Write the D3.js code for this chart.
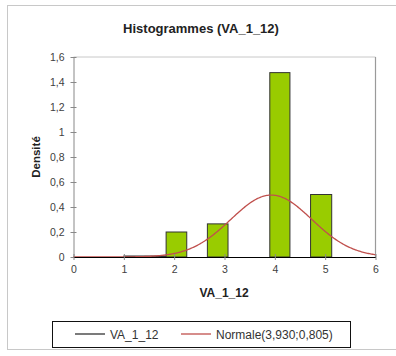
<!DOCTYPE html>
<html><head><meta charset="utf-8">
<script src="https://cdn.jsdelivr.net/npm/d3@7"></script>
<style>body{margin:0;background:#fff}svg{display:block;font-family:"Liberation Sans",Arial,sans-serif}</style>
</head><body>
<script>
const title = "Histogrammes (VA_1_12)";
const xTitle = "VA_1_12";
const yTitle = "Densité";
const binStart = [1.0, 1.84, 2.66, 3.90, 4.71];
const binEnd   = [1.84, 2.25, 3.07, 4.30, 5.13];
const density  = [0.008, 0.20, 0.265, 1.475, 0.50];
const normMean = 3.930, normSd = 0.805;
const xTicks = [0,1,2,3,4,5,6];
const yTicks = [0,0.2,0.4,0.6,0.8,1,1.2,1.4,1.6];
const legendLabels = ["VA_1_12", "Normale(3,930;0,805)"];

const W=396,H=356;
const svg=d3.select("body").append("svg").attr("width",W).attr("height",H);
svg.append("rect").attr("x",7.5).attr("y",5.5).attr("width",400).attr("height",344).attr("fill","#fff").attr("stroke","#c8c8c8");

const x=d3.scaleLinear().domain([0,6]).range([73.5,375.5]);
const y=d3.scaleLinear().domain([0,1.6]).range([257,57]);
const fmt=d=>String(d).replace(".",",");

svg.append("line").attr("x1",x(0)).attr("x2",x(6)).attr("y1",y(1.6)).attr("y2",y(1.6)).attr("stroke","#c8c8c8");
svg.append("line").attr("x1",x(6)).attr("x2",x(6)).attr("y1",y(1.6)).attr("y2",y(0)).attr("stroke","#9a9a9a").attr("stroke-width",1.2);

svg.append("g").selectAll("rect").data(density).join("rect")
  .attr("x",(d,i)=>x(binStart[i])).attr("width",(d,i)=>x(binEnd[i])-x(binStart[i]))
  .attr("y",d=>y(d)).attr("height",d=>y(0)-y(d))
  .attr("fill",(d,i)=>i===0?"#222":"#99cc00").attr("stroke","#333").attr("stroke-width",1);

const ya=svg.append("g").attr("transform",`translate(${x(0)},0)`)
  .call(d3.axisLeft(y).tickValues(yTicks).tickFormat(fmt).tickSizeInner(3).tickSizeOuter(0).tickPadding(6));
ya.selectAll(".tick line").attr("x2",3).attr("x1",-3).attr("stroke","#888");
ya.select(".domain").attr("stroke","#888");
ya.selectAll("text").attr("font-size",10.5).attr("fill","#404040").attr("font-family","Liberation Sans, Arial");

const pts=d3.range(0,6.0001,0.02).map(v=>[v,Math.exp(-0.5*((v-normMean)/normSd)**2)/(normSd*Math.sqrt(2*Math.PI))]);
svg.append("path").datum(pts).attr("fill","none").attr("stroke","#c0504d").attr("stroke-width",1.3)
  .attr("d",d3.line().x(d=>x(d[0])).y(d=>y(d[1])));

const xa=svg.append("g").attr("transform",`translate(0,${y(0)})`)
  .call(d3.axisBottom(x).tickValues(xTicks).tickFormat(fmt).tickSizeInner(3).tickSizeOuter(0).tickPadding(6));
xa.selectAll(".tick line").attr("y1",-3).attr("y2",3).attr("stroke","#888");
xa.select(".domain").attr("stroke","#000").attr("stroke-width",1.2);
xa.selectAll("text").attr("font-size",10.5).attr("fill","#404040").attr("font-family","Liberation Sans, Arial");

svg.append("text").attr("x",201).attr("y",33).attr("text-anchor","middle").attr("font-weight","bold").attr("font-size",13).attr("fill","#222").text(title);
svg.append("text").attr("x",224).attr("y",297).attr("text-anchor","middle").attr("font-weight","bold").attr("font-size",12).attr("fill","#222").text(xTitle);
svg.append("text").attr("transform","translate(40,157) rotate(-90)").attr("text-anchor","middle").attr("font-weight","bold").attr("font-size",11.5).attr("fill","#222").text(yTitle);

svg.append("rect").attr("x",52.5).attr("y",321.5).attr("width",298).attr("height",26).attr("fill","#fff").attr("stroke","#111");
const lc=["#333","#c0504d"], lx=[75,181];
legendLabels.forEach((t,i)=>{
  svg.append("line").attr("x1",lx[i]).attr("x2",lx[i]+30).attr("y1",334).attr("y2",334).attr("stroke",lc[i]).attr("stroke-width",1.3);
  svg.append("text").attr("x",lx[i]+35).attr("y",338.5).attr("font-size",12).attr("fill","#333").text(t);
});
</script>
</body></html>
